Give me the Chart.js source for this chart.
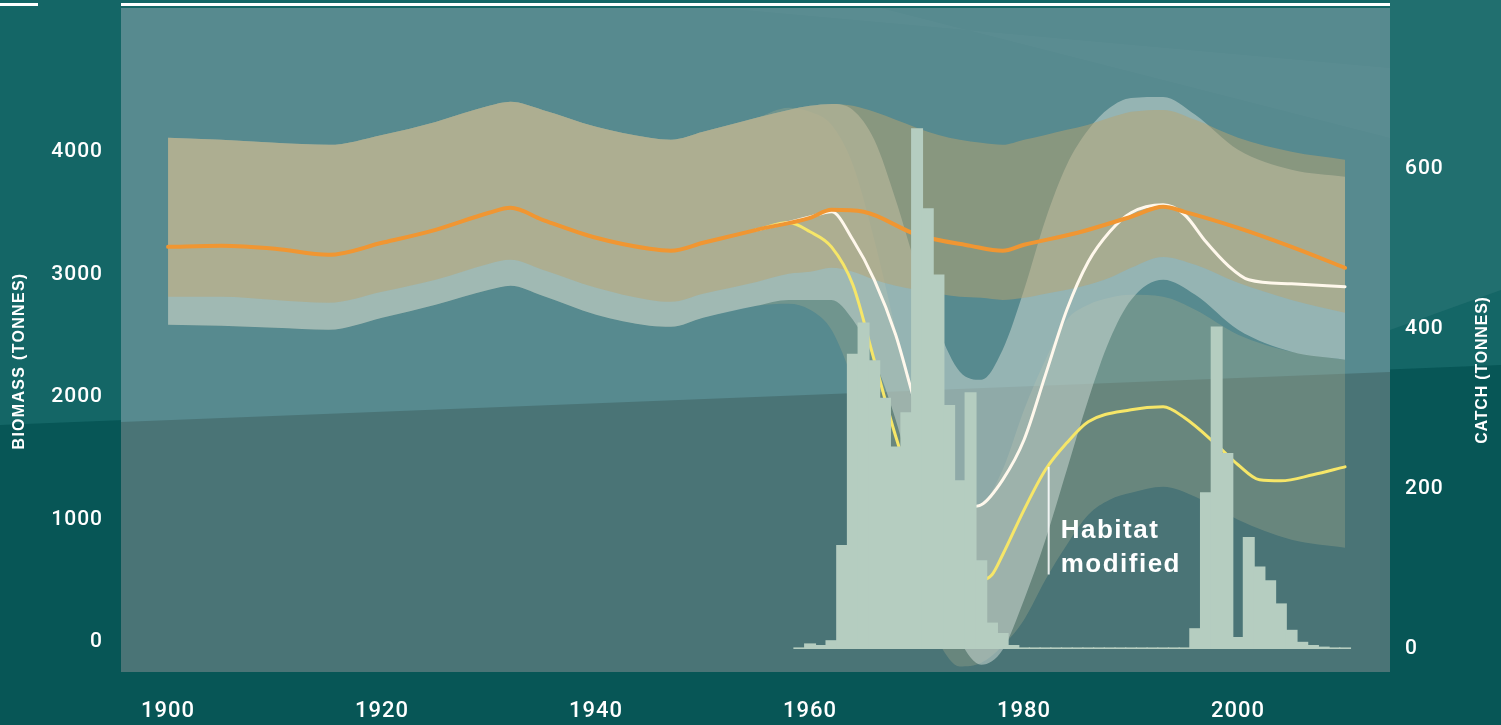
<!DOCTYPE html>
<html>
<head>
<meta charset="utf-8">
<script src="https://cdn.jsdelivr.net/npm/chart.js@4.4.0/dist/chart.umd.min.js"></script>
<style>
  html, body { margin: 0; padding: 0; background: #0a5a5a; }
  canvas { display: block; }
</style>
</head>
<body>
<canvas id="chart" width="1501" height="725"></canvas>
<script>
// axis ticks
const yearTicks = [1900, 1920, 1940, 1960, 1980, 2000];
const biomassTicks = [0, 1000, 2000, 3000, 4000];
const catchTicks = [0, 200, 400, 600];

// biomass lines (tonnes)
const orangeYears = [1900, 1905, 1910, 1915, 1920, 1925, 1930, 1932, 1935, 1940, 1945, 1947, 1950, 1955,
  1960, 1962, 1965, 1970, 1975, 1978, 1980, 1985, 1990, 1993, 1995, 2000, 2005, 2010];
const orangeBiomass = [3226, 3234, 3210, 3161, 3259, 3365, 3504, 3545, 3447, 3300, 3210, 3194, 3259, 3365,
  3463, 3528, 3512, 3325, 3234, 3194, 3243, 3341, 3472, 3553, 3512, 3381, 3226, 3055];

const whiteYears = [1955, 1958, 1960, 1962, 1964, 1966, 1968, 1970, 1972, 1974, 1975, 1976, 1978, 1980,
  1982, 1984, 1986, 1988, 1990, 1993, 1995, 1997, 1999, 2001, 2005, 2010];
const whiteBiomass = [3365, 3425, 3470, 3512, 3284, 2957, 2508, 1896, 1406, 1161, 1104, 1120, 1324, 1651,
  2181, 2712, 3104, 3349, 3504, 3569, 3488, 3267, 3079, 2957, 2924, 2900];

const yellowYears = [1955, 1958, 1960, 1962, 1964, 1966, 1968, 1970, 1972, 1974, 1976, 1977, 1978, 1980,
  1982, 1984, 1986, 1990, 1993, 1995, 1998, 2000, 2002, 2004, 2007, 2010];
const yellowBiomass = [3365, 3425, 3349, 3226, 2916, 2300, 1680, 1161, 793, 573, 508, 549, 712, 1079,
  1406, 1626, 1798, 1896, 1920, 1830, 1610, 1447, 1324, 1316, 1365, 1430];

// uncertainty bands (tonnes)
const bandYears = [1900, 1905, 1910, 1915, 1920, 1925, 1930, 1932, 1935, 1940, 1945, 1947, 1950, 1955,
  1958, 1960, 1962, 1964, 1966, 1968, 1970, 1972, 1974, 1976, 1978, 1980, 1982, 1984, 1986, 1988,
  1990, 1993, 1996, 2000, 2005, 2010];
const orangeUpper = [4116, 4100, 4075, 4059, 4140, 4246, 4377, 4410, 4344, 4206, 4116, 4100, 4165, 4279,
  4344, 4377, 4393, 4377, 4328, 4263, 4197, 4140, 4100, 4075, 4059, 4100, 4140, 4181, 4222, 4279,
  4328, 4344, 4263, 4116, 4002, 3937];
const orangeLower = [2818, 2818, 2793, 2769, 2859, 2957, 3088, 3120, 3039, 2892, 2793, 2777, 2843, 2940,
  3006, 3022, 3055, 3022, 2957, 2908, 2875, 2843, 2818, 2810, 2793, 2810, 2843, 2875, 2916, 2973,
  3055, 3144, 3079, 2932, 2793, 2687];
const whiteUpper = [4116, 4100, 4075, 4059, 4140, 4246, 4377, 4410, 4344, 4206, 4116, 4100, 4165, 4279,
  4344, 4377, 4393, 4344, 4100, 3610, 3039, 2549, 2206, 2140, 2385, 2875, 3447, 3896, 4181, 4361,
  4442, 4450, 4304, 4018, 3855, 3798];
const whiteLower = [2589, 2581, 2565, 2549, 2647, 2753, 2875, 2908, 2826, 2671, 2581, 2573, 2647, 2745,
  2793, 2793, 2793, 2630, 2304, 1814, 1161, 508, 18, -186, -64, 345, 834, 1406, 1977, 2467,
  2793, 2957, 2834, 2549, 2369, 2304];
const yellowUpper = [4116, 4100, 4075, 4059, 4140, 4246, 4377, 4410, 4344, 4206, 4116, 4100, 4165, 4279,
  4361, 4328, 4222, 3896, 3284, 2549, 1814, 1324, 1079, 1120, 1406, 1896, 2304, 2630, 2753, 2810,
  2834, 2818, 2712, 2508, 2369, 2304];
const yellowLower = [2589, 2581, 2565, 2549, 2647, 2753, 2875, 2908, 2826, 2671, 2581, 2573, 2647, 2745,
  2761, 2712, 2549, 2140, 1651, 1079, 420, 0, -200, -170, -30, 182, 508, 793, 1038, 1161,
  1218, 1267, 1185, 998, 834, 769];

// catch (tonnes)
const catchYears = [1959, 1960, 1961, 1962, 1963, 1964, 1965, 1966, 1967, 1968, 1969, 1970, 1971, 1972,
  1973, 1974, 1975, 1976, 1977, 1978, 1979, 1980, 1981, 1982, 1983, 1984, 1985, 1986, 1987, 1988,
  1989, 1990, 1991, 1992, 1993, 1994, 1995, 1996, 1997, 1998, 1999, 2000, 2001, 2002, 2003, 2004,
  2005, 2006, 2007, 2008, 2009, 2010];
const catchTonnes = [2, 7, 5, 11, 130, 369, 408, 361, 314, 253, 296, 651, 551, 468,
  305, 211, 321, 111, 33, 20, 5, 2, 2, 2, 2, 2, 2, 2, 2, 2,
  2, 2, 2, 2, 2, 2, 2, 26, 196, 403, 245, 15, 140, 103, 86, 57,
  24, 9, 5, 3, 2, 2];

// annotation
const habitatYear = 1982.3;
const habitatFrom = 551;
const habitatTo = 1430;

const FONT = "'Liberation Sans', Arial, Helvetica, sans-serif";
const TICK_FONT = "Roboto, 'Liberation Sans', Arial, sans-serif";

function pts(xs, ys) {
  return xs.map((x, i) => ({x: x, y: ys[i]}));
}

function band(upper, lower, color, order) {
  let common = {type: 'line', yAxisID: 'y', borderColor: 'transparent', borderWidth: 1,
    pointRadius: 0, cubicInterpolationMode: 'monotone', order: order};
  return [
    Object.assign({data: pts(bandYears, upper), fill: false}, common),
    Object.assign({data: pts(bandYears, lower), fill: '-1', backgroundColor: color}, common)
  ];
}

function line(xs, ys, color, width, order) {
  return {type: 'line', yAxisID: 'y', data: pts(xs, ys), borderColor: color, borderWidth: width,
    pointRadius: 0, fill: false, cubicInterpolationMode: 'monotone', borderCapStyle: 'round',
    borderJoinStyle: 'round', order: order};
}

function poly(ctx, p, color) {
  ctx.beginPath();
  ctx.moveTo(p[0][0], p[0][1]);
  for (let i = 1; i < p.length; i++) ctx.lineTo(p[i][0], p[i][1]);
  ctx.closePath();
  ctx.fillStyle = color;
  ctx.fill();
}

const backdrop = {
  id: 'backdrop',
  beforeDraw(chart) {
    const ctx = chart.ctx;
    const a = chart.chartArea;
    const W = chart.width, H = chart.height;
    ctx.save();
    ctx.fillStyle = 'rgb(7,86,86)';
    ctx.fillRect(0, 0, W, H);
    poly(ctx, [[0, 0], [W, 0], [W, 365], [0, 425]], 'rgb(20,102,102)');
    poly(ctx, [[a.right, 0], [W, 0], [W, 290], [a.right, 330]], 'rgba(255,255,255,0.06)');
    // panel
    ctx.fillStyle = 'rgb(87,138,143)';
    ctx.fillRect(a.left, a.top, a.right - a.left, a.bottom - a.top);
    poly(ctx, [[a.left + 600, a.top], [a.left + 760, a.top], [a.right, a.top + 130], [a.right, a.top + 60]],
      'rgba(255,255,255,0.025)');
    poly(ctx, [[a.left, 422], [a.right, 372], [a.right, a.bottom], [a.left, a.bottom]], 'rgb(74,116,118)');
    ctx.restore();
    ctx.letterSpacing = '1px';
  },
  afterDraw(chart) {
    const ctx = chart.ctx;
    const a = chart.chartArea;
    const xs = chart.scales.x, ys = chart.scales.y;
    ctx.save();
    ctx.fillStyle = '#ffffff';
    ctx.fillRect(a.left, 3, a.right - a.left, 3);
    ctx.fillRect(0, 3, 38, 3);

    ctx.textAlign = 'center';
    ctx.textBaseline = 'middle';
    ctx.font = 'bold 16px ' + FONT;
    ctx.letterSpacing = '1.3px';
    ctx.save();
    ctx.translate(20, 361);
    ctx.rotate(-Math.PI / 2);
    ctx.fillText('BIOMASS (TONNES)', 0, 0);
    ctx.restore();
    ctx.letterSpacing = '0.8px';
    ctx.save();
    ctx.translate(1483, 370);
    ctx.rotate(-Math.PI / 2);
    ctx.fillText('CATCH (TONNES)', 0, 0);
    ctx.restore();

    const hx = xs.getPixelForValue(habitatYear);
    ctx.strokeStyle = 'rgba(255,255,255,0.85)';
    ctx.lineWidth = 2;
    ctx.beginPath();
    ctx.moveTo(hx, ys.getPixelForValue(habitatTo));
    ctx.lineTo(hx, ys.getPixelForValue(habitatFrom));
    ctx.stroke();
    ctx.font = 'bold 26px ' + FONT;
    ctx.letterSpacing = '1.5px';
    ctx.textAlign = 'left';
    ctx.textBaseline = 'alphabetic';
    ctx.fillText('Habitat', hx + 12, 538);
    ctx.fillText('modified', hx + 12, 572);
    ctx.restore();
  }
};

function noPad(s) {
  s.paddingTop = 0; s.paddingBottom = 0; s.paddingLeft = 0; s.paddingRight = 0;
}

let ctx = document.getElementById('chart').getContext('2d');

let datasets = [
  {type: 'bar', yAxisID: 'yc', data: pts(catchYears, catchTonnes), backgroundColor: 'rgb(181,205,192)',
    borderWidth: 0, barPercentage: 1.12, categoryPercentage: 1, inflateAmount: 0, order: 0},
  line(orangeYears, orangeBiomass, 'rgb(240,150,50)', 4, 1),
  line(whiteYears, whiteBiomass, 'rgb(255,248,236)', 3, 2),
  line(yellowYears, yellowBiomass, 'rgb(246,230,104)', 3, 3)
].concat(
  band(orangeUpper, orangeLower, 'rgba(185,163,112,0.5)', 4),
  band(whiteUpper, whiteLower, 'rgba(200,215,210,0.55)', 5),
  band(yellowUpper, yellowLower, 'rgba(160,170,140,0.35)', 6)
);

let tickFont = {size: 22, family: TICK_FONT, weight: '500'};

window.chart = new Chart(ctx, {
  type: 'line',
  data: {datasets: datasets},
  plugins: [backdrop],
  options: {
    responsive: false,
    animation: false,
    devicePixelRatio: 1,
    layout: {padding: {top: 8, left: 0, right: 0, bottom: 0}},
    plugins: {legend: {display: false}, tooltip: {enabled: false}},
    scales: {
      x: {
        type: 'linear', min: 1895.6, max: 2014.2, offset: false,
        grid: {display: false, drawTicks: false}, border: {display: false},
        afterBuildTicks: s => { s.ticks = yearTicks.map(v => ({value: v})); },
        afterFit: s => { s.height = 53; noPad(s); },
        ticks: {color: '#ffffff', font: tickFont, padding: 26, maxRotation: 0,
          autoSkip: false, callback: v => String(v)}
      },
      y: {
        type: 'linear', position: 'left', min: -245, max: 5176,
        grid: {display: false, drawTicks: false}, border: {display: false},
        afterBuildTicks: s => { s.ticks = biomassTicks.map(v => ({value: v})); },
        afterFit: s => { s.width = 121; noPad(s); },
        ticks: {color: '#ffffff', font: {size: 21, family: TICK_FONT, weight: '500'}, padding: 18,
          callback: v => String(v)}
      },
      yc: {
        type: 'linear', position: 'right', min: -28.75, max: 801.25,
        grid: {display: false, drawTicks: false}, border: {display: false},
        afterBuildTicks: s => { s.ticks = catchTicks.map(v => ({value: v})); },
        afterFit: s => { s.width = 111; noPad(s); },
        ticks: {color: '#ffffff', font: {size: 21, family: TICK_FONT, weight: '500'}, padding: 15,
          callback: v => String(v)}
      }
    }
  }
});
</script>
</body>
</html>
